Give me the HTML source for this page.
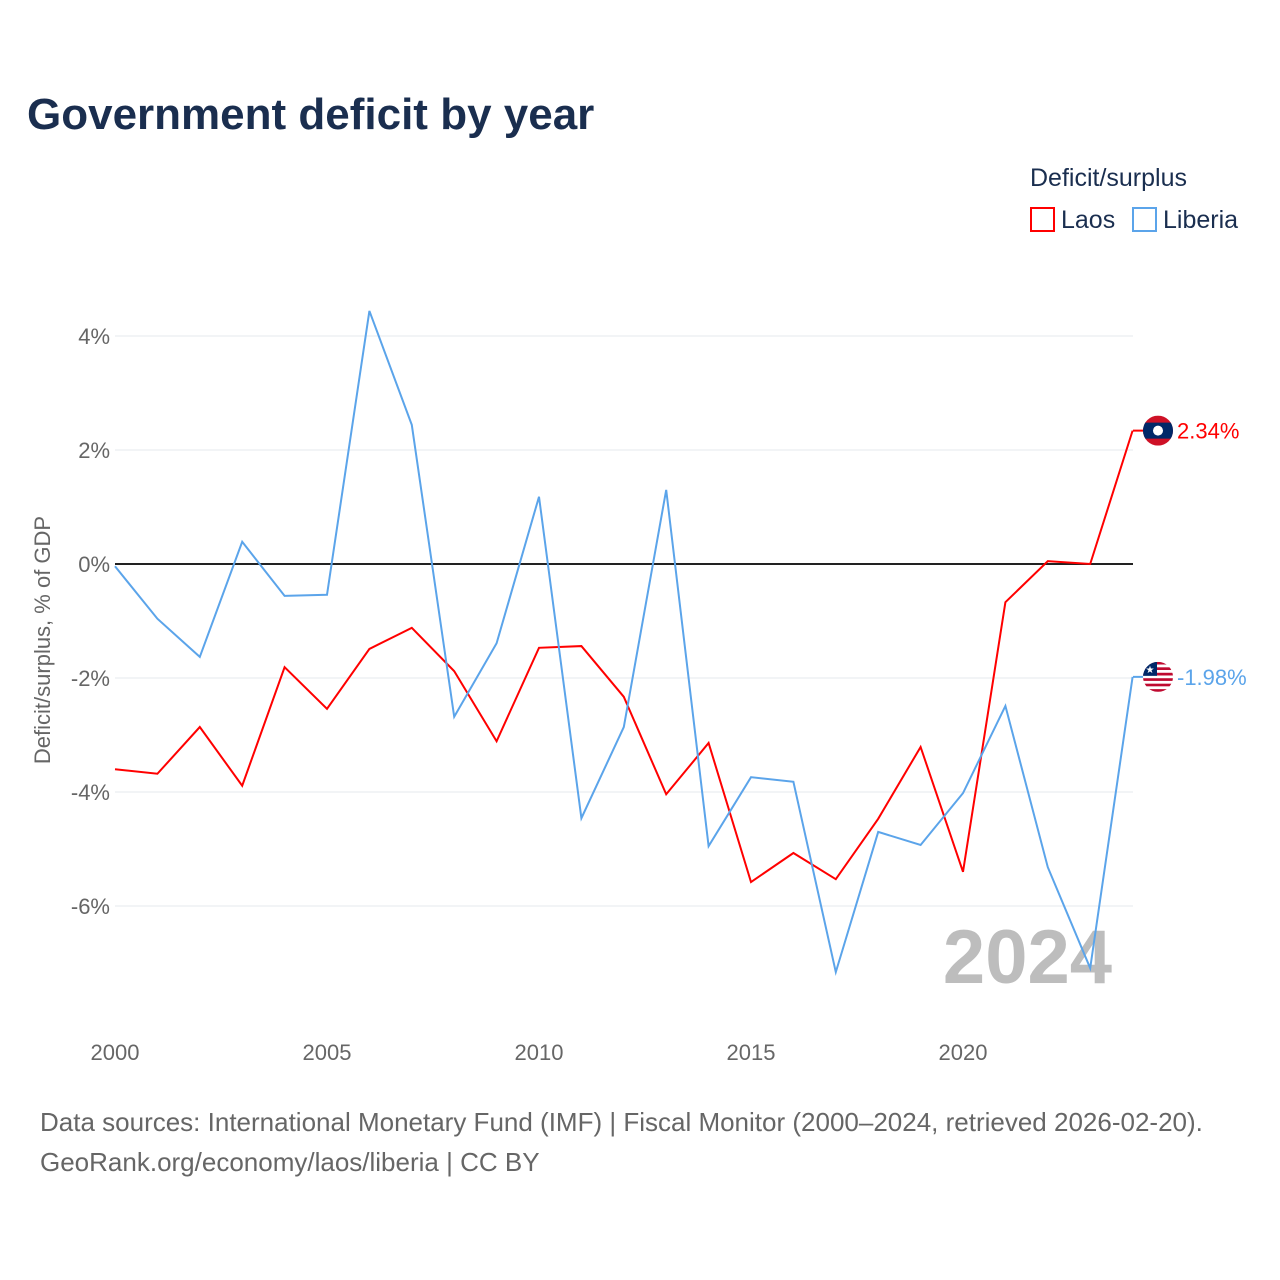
<!DOCTYPE html>
<html><head><meta charset="utf-8">
<style>
html,body{margin:0;padding:0;background:#fff;}
body{width:1280px;height:1280px;position:relative;font-family:"Liberation Sans",sans-serif;overflow:hidden;}
.title{position:absolute;left:27px;top:90px;font-size:44px;font-weight:bold;color:#1a2e4f;}
.foot{position:absolute;left:40px;font-size:26px;color:#666;}
</style></head><body>
<div class="title">Government deficit by year</div>
<svg id="chart" width="1280" height="1280" style="position:absolute;left:0;top:0"></svg>
<div class="foot" style="top:1107px">Data sources: International Monetary Fund (IMF) | Fiscal Monitor (2000–2024, retrieved 2026-02-20).</div>
<div class="foot" style="top:1147px">GeoRank.org/economy/laos/liberia | CC BY</div>
<script>
const years=[2000,2001,2002,2003,2004,2005,2006,2007,2008,2009,2010,2011,2012,2013,2014,2015,2016,2017,2018,2019,2020,2021,2022,2023,2024];
const laos=[-3.60,-3.68,-2.86,-3.89,-1.81,-2.54,-1.49,-1.12,-1.88,-3.11,-1.47,-1.44,-2.33,-4.04,-3.14,-5.58,-5.07,-5.53,-4.47,-3.21,-5.40,-0.67,0.05,0.0,2.34];
const liberia=[-0.04,-0.96,-1.63,0.39,-0.56,-0.54,4.44,2.44,-2.68,-1.39,1.18,-4.46,-2.86,1.30,-4.95,-3.74,-3.82,-7.16,-4.70,-4.93,-4.02,-2.49,-5.32,-7.09,-1.98];
const yTicks=[4,2,0,-2,-4,-6];
const xTicks=[2000,2005,2010,2015,2020];
const NS="http://www.w3.org/2000/svg";
const svg=document.getElementById('chart');
const X=y=>115+(y-2000)*42.4;
const Y=v=>564-v*57;
function el(t,a,txt){const e=document.createElementNS(NS,t);for(const k in a)e.setAttribute(k,a[k]);if(txt!=null)e.textContent=txt;svg.appendChild(e);return e;}
yTicks.forEach(v=>{
  const g=el('line',{x1:115,x2:1133,y1:Y(v),y2:Y(v),stroke:v===0?'#222':'#e6e9ee','stroke-width':v===0?2:1});
  
  
  const t=el('text',{x:110,y:Y(v)+8,'text-anchor':'end','font-size':22,fill:'#666','font-family':'Liberation Sans'},v+'%');
  
  
});
xTicks.forEach(y=>{
  const t=el('text',{x:X(y),y:1060,'text-anchor':'middle','font-size':22,fill:'#666','font-family':'Liberation Sans'},y);
  
  
});
const yt=el('text',{x:0,y:0,transform:'translate(50,640) rotate(-90)','text-anchor':'middle','font-size':22,fill:'#666','font-family':'Liberation Sans'},'Deficit/surplus, % of GDP');


const yr=el('text',{x:1112,y:983,'text-anchor':'end','font-size':76,'font-weight':'bold',fill:'#bdbdbd','font-family':'Liberation Sans'},'2024');


function series(vals,color,name){
  const p=el('polyline',{points:vals.map((v,i)=>X(years[i])+','+Y(v)).join(' '),fill:'none',stroke:color,'stroke-width':2});
  
  
  const last=vals[vals.length-1];
  const ly=Y(last);
  el('line',{x1:1133,x2:1150,y1:ly,y2:ly,stroke:color,'stroke-width':2});
  const lbl=el('text',{x:1177,y:ly+8,'font-size':22,fill:color,'font-family':'Liberation Sans'},last.toFixed(2)+'%');
  
  
  return ly;
}
const ly1=series(laos,'#ff0000','laos');
const ly2=series(liberia,'#5ba4ea','liberia');
const f1=el('g',{});


f1.innerHTML=`<clipPath id="c1"><circle cx="1158" cy="${ly1}" r="15"/></clipPath><g clip-path="url(#c1)"><rect x="1143" y="${ly1-15}" width="30" height="30" fill="#ce1126"/><rect x="1143" y="${ly1-8}" width="30" height="16" fill="#002868"/><circle cx="1158" cy="${ly1}" r="5" fill="#fff"/></g>`;
svg.appendChild(f1);
const f2=el('g',{});


let stripes='';for(let i=0;i<11;i++)stripes+=`<rect x="1143" y="${ly2-15+i*30/11}" width="30" height="${30/11}" fill="${i%2?'#fff':'#bf0a30'}"/>`;
f2.innerHTML=`<clipPath id="c2"><circle cx="1158" cy="${ly2}" r="15"/></clipPath><g clip-path="url(#c2)">${stripes}<rect x="1143" y="${ly2-15}" width="14" height="14" fill="#002868"/><text x="1150" y="${ly2-4}" font-size="10" fill="#fff" text-anchor="middle">★</text></g>`;
svg.appendChild(f2);
const lt=el('text',{x:1030,y:186,'font-size':25,fill:'#1a2e4f','font-family':'Liberation Sans'},'Deficit/surplus');


const r1=el('rect',{x:1031,y:208,width:23,height:23,fill:'none',stroke:'#ff0000','stroke-width':2});


const t1=el('text',{x:1061,y:228,'font-size':25,fill:'#1a2e4f','font-family':'Liberation Sans'},'Laos');


const r2=el('rect',{x:1133,y:208,width:23,height:23,fill:'none',stroke:'#5ba4ea','stroke-width':2});


const t2=el('text',{x:1163,y:228,'font-size':25,fill:'#1a2e4f','font-family':'Liberation Sans'},'Liberia');


</script>
</body></html>
